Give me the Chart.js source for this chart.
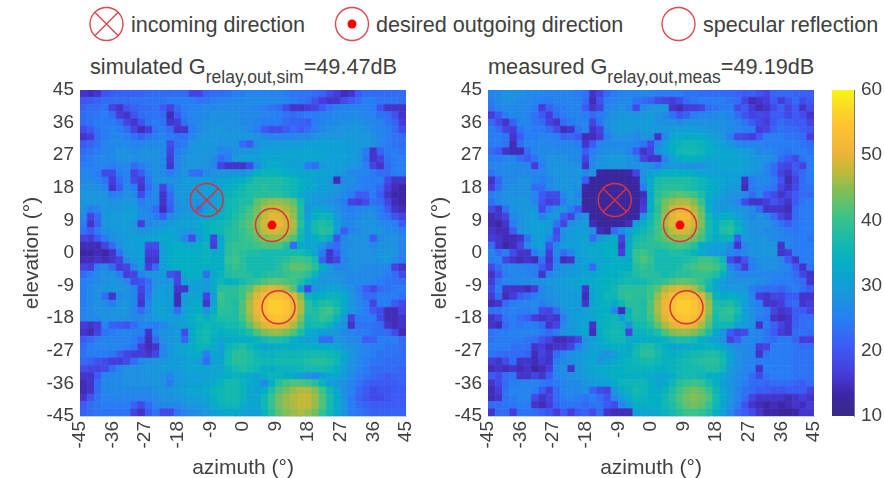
<!DOCTYPE html>
<html>
<head>
<meta charset="utf-8">
<title>Relay gain</title>
<script src="https://cdn.jsdelivr.net/npm/chart.js@4/dist/chart.umd.min.js"></script>
<style>
  html, body { margin: 0; padding: 0; background: #fff; }
  body { width: 884px; height: 478px; position: relative; overflow: hidden; font-family: "Liberation Sans", Arial, sans-serif; color: #404040; }
  canvas { position: absolute; top: 60px; filter: blur(0.6px); }
  .txt { position: absolute; white-space: nowrap; }
  .legend { top: 12px; font-size: 21.6px; line-height: 26px; }
  .title { top: 55px; font-size: 21.7px; line-height: 24px; }
  .title sub { font-size: 17.5px; line-height: 0; vertical-align: -9px; }
  svg { position: absolute; top: 0; left: 0; }
</style>
</head>
<body>
<svg width="884" height="50" fill="none" stroke="#e2474f" stroke-width="1.4">
  <circle cx="106.5" cy="24" r="16.5"/>
  <path d="M94.8 12.3 L118.2 35.7 M118.2 12.3 L94.8 35.7"/>
  <circle cx="352" cy="24" r="16.5"/>
  <circle cx="352" cy="24" r="4.5" fill="#f00" stroke="none"/>
  <circle cx="678.5" cy="24" r="16.5"/>
</svg>
<div class="txt legend" style="left:131px">incoming direction</div>
<div class="txt legend" style="left:376px">desired outgoing direction</div>
<div class="txt legend" style="left:703px">specular reflection</div>
<div class="txt title" style="left:90px">simulated G<sub>relay,out,sim</sub>=49.47dB</div>
<div class="txt title" style="left:488px">measured G<sub>relay,out,meas</sub>=49.19dB</div>
<canvas id="simChart" width="424" height="418" style="left:0"></canvas>
<canvas id="measChart" width="424" height="418" style="left:408px"></canvas>
<canvas id="colorbar" width="64" height="418" style="left:820px"></canvas>
<script>
const axisTicks = [-45, -36, -27, -18, -9, 0, 9, 18, 27, 36, 45];
const colorbarTicks = [10, 20, 30, 40, 50, 60];
const azimuthCells = [-44,-42,-40,-38,-36,-34,-32,-30,-28,-26,-24,-22,-20,-18,-16,-14,-12,-10,-8,-6,-4,-2,0,2,4,6,8,10,12,14,16,18,20,22,24,26,28,30,32,34,36,38,40,42,44];
const elevationCells = [44,42,40,38,36,34,32,30,28,26,24,22,20,18,16,14,12,10,8,6,4,2,0,-2,-4,-6,-8,-10,-12,-14,-16,-18,-20,-22,-24,-26,-28,-30,-32,-34,-36,-38,-40,-42,-44];

// direction markers, degrees
const incomingDir = { x: -10, y: 14.6 };
const outgoingDir = { x: 8, y: 7.7 };
const specularDir = { x: 9.8, y: -15 };

// gain in dB, one row per elevation (top to bottom)
const simulatedGain = [
[15,14,15,19,20,21,21,21,21,22,22,22,22,22,22,17,17,21,22,22,23,24,24,25,25,25,25,25,24,23,23,23,22,21,18,16,14,15,20,22,22,22,22,22,22],
[19,20,21,22,22,22,22,23,23,23,23,23,24,24,24,24,23,23,24,25,25,26,26,26,26,26,26,26,25,24,23,22,19,16,15,15,18,20,22,24,24,23,23,23,22],
[21,22,22,23,17,15,19,21,22,22,23,20,17,22,24,25,25,26,26,26,26,26,26,26,25,24,23,22,18,15,15,16,17,20,23,24,25,25,25,25,24,19,15,15,15],
[22,23,23,24,22,16,15,19,22,23,23,22,14,20,24,25,26,26,27,27,27,27,26,26,26,25,25,24,23,22,23,24,24,25,25,26,26,26,26,25,25,23,22,19,15],
[22,23,24,24,24,22,17,15,19,23,24,23,15,16,23,25,26,27,27,27,27,27,26,26,25,24,24,24,22,21,21,20,24,25,26,26,27,27,27,26,26,25,23,21,16],
[18,20,23,24,25,24,22,17,14,16,23,24,22,15,15,24,26,27,28,28,27,27,27,26,24,20,18,18,20,22,20,22,24,26,27,27,28,28,28,27,26,25,24,22,18],
[15,16,22,24,25,25,24,23,21,23,24,25,24,23,23,25,27,28,28,28,28,28,28,28,27,26,25,25,25,25,26,26,27,28,28,28,28,29,28,28,27,25,24,23,22],
[20,21,23,25,26,26,26,25,25,26,26,26,18,23,24,27,28,28,28,27,27,28,22,20,27,29,29,29,29,29,29,30,30,30,30,30,30,29,29,28,27,25,24,23,22],
[22,23,24,25,26,27,27,26,27,27,27,26,17,24,26,28,28,28,27,25,25,27,28,28,29,30,30,30,30,31,31,31,31,31,30,30,30,29,28,24,15,21,24,24,23],
[23,24,25,26,26,27,27,27,27,27,27,26,16,25,27,28,28,28,26,22,24,28,30,30,30,31,31,31,31,31,31,31,31,31,30,30,30,29,28,23,15,17,23,24,24],
[24,24,25,25,24,25,26,22,24,26,27,26,15,25,27,28,28,27,25,17,15,15,15,18,26,31,32,32,31,30,30,24,22,28,30,30,29,28,27,24,17,15,22,24,24],
[25,25,24,18,18,24,25,17,20,25,27,26,24,26,28,23,22,26,27,28,28,28,27,30,33,34,34,34,33,32,31,31,31,31,30,29,28,26,25,25,24,22,22,24,24],
[26,26,25,23,16,22,25,18,16,24,27,28,27,27,29,29,29,29,29,30,31,32,33,35,37,37,37,37,36,35,33,32,31,30,29,14,26,27,25,24,24,24,18,15,15],
[27,27,27,25,15,20,26,24,15,22,26,17,24,28,29,29,29,30,30,31,33,34,35,37,37,38,37,37,36,35,33,32,31,30,29,28,27,26,25,24,24,22,16,14,13],
[28,28,28,27,24,25,27,26,18,24,26,15,22,28,29,29,29,30,30,31,34,35,36,37,38,38,38,38,37,35,32,30,29,29,28,27,26,24,20,20,24,20,15,13,13],
[28,28,28,28,27,27,28,28,24,26,25,15,21,27,28,28,27,28,29,31,35,36,37,37,42,44,45,45,44,42,36,30,28,28,27,26,24,17,16,18,23,22,17,14,13],
[27,24,25,28,28,28,29,29,26,25,22,14,20,27,28,28,24,29,31,32,35,36,38,40,43,46,47,47,46,44,37,28,31,31,29,27,25,24,25,26,26,24,20,15,14],
[26,17,22,28,29,29,30,30,26,26,24,20,26,28,29,29,30,31,32,33,35,37,39,41,44,47,49,49,48,45,37,30,33,35,34,29,26,25,26,27,27,24,23,19,17],
[24,15,21,28,29,29,30,28,16,26,27,28,29,30,31,31,32,33,34,35,36,38,40,42,45,48,50,50,48,46,38,31,36,37,36,30,26,26,27,27,28,26,25,24,20],
[23,20,24,27,28,29,29,29,27,28,29,30,31,30,28,28,31,33,34,35,37,38,39,41,44,47,48,48,47,45,36,31,36,38,37,29,20,25,26,27,28,27,26,26,24],
[17,16,20,24,27,28,29,30,30,31,31,32,32,30,25,18,29,33,17,32,37,38,39,40,42,44,45,45,44,41,35,31,33,35,33,19,26,27,27,27,20,26,27,27,25],
[14,14,14,17,22,27,29,30,30,18,18,30,32,33,32,31,33,34,16,32,38,39,39,39,40,41,41,41,38,22,32,31,31,28,23,22,26,27,27,27,26,27,27,27,25],
[13,13,14,13,15,23,28,29,30,16,16,30,32,33,33,33,33,34,32,32,38,39,38,37,37,36,36,36,36,36,36,34,31,24,15,20,26,27,27,27,27,28,28,27,25],
[14,14,15,14,15,17,26,29,30,15,15,30,32,33,33,33,33,34,33,33,39,40,38,36,36,36,36,37,38,40,40,39,36,21,15,17,25,27,27,27,27,28,28,26,24],
[17,16,24,26,22,16,17,25,29,16,22,30,32,33,33,33,33,33,33,33,38,39,38,36,36,36,36,38,40,42,42,41,38,33,28,25,26,27,27,26,26,26,25,17,15],
[22,24,26,27,27,24,16,17,25,28,28,29,19,17,32,33,33,22,32,34,37,38,38,37,36,37,38,38,39,40,40,38,34,29,28,27,27,26,26,26,26,26,24,22,18],
[24,25,26,27,28,27,25,18,19,22,27,28,28,17,30,31,30,29,32,35,33,34,36,38,39,41,42,42,41,40,37,33,29,28,28,28,27,26,26,26,25,24,23,23,22],
[24,26,27,28,28,28,27,25,17,23,28,29,29,15,15,29,30,28,32,38,38,38,40,42,46,48,49,48,46,42,30,17,28,30,31,31,29,27,24,20,18,22,23,24,24],
[24,26,27,22,15,26,27,26,16,24,29,30,29,14,29,31,31,17,30,40,38,38,40,45,49,52,53,53,52,49,44,34,33,33,34,34,32,28,25,22,22,24,24,24,23],
[24,26,27,26,24,27,28,26,15,25,30,30,29,14,29,32,32,15,31,39,38,37,41,46,50,53,55,55,54,51,46,38,35,37,37,35,32,28,26,24,17,24,24,20,18],
[25,26,27,27,27,28,28,25,22,26,30,31,29,22,30,32,33,27,33,38,38,37,41,46,50,53,55,55,54,51,46,38,37,39,40,37,32,28,26,24,20,18,14,14,17],
[25,26,26,27,27,27,27,26,26,27,29,30,30,29,31,33,35,33,35,37,37,37,40,45,49,52,53,54,52,49,44,36,37,39,38,34,29,17,24,24,24,18,14,14,15],
[16,15,16,25,21,20,19,22,25,25,24,26,28,29,30,32,34,35,34,35,36,36,38,42,46,49,50,50,49,46,41,35,36,36,34,30,27,15,23,23,23,22,15,14,15],
[15,14,17,23,24,25,25,25,24,15,25,27,28,29,18,32,35,36,34,33,34,34,35,37,41,44,45,45,44,41,37,32,31,30,29,28,26,25,24,24,23,22,22,18,14],
[20,22,24,25,25,25,25,24,21,14,22,27,28,29,21,32,35,36,33,31,32,33,33,33,34,36,37,37,36,33,31,30,30,22,22,28,27,26,25,20,21,24,24,24,22],
[22,24,25,25,25,25,24,23,16,14,15,25,28,30,31,32,34,34,32,30,34,36,37,35,33,31,32,32,33,32,33,33,33,33,32,31,29,27,26,25,24,24,23,23,22],
[23,24,24,24,23,20,17,16,16,15,17,26,28,30,31,32,32,24,31,30,36,38,38,37,35,34,34,35,35,35,35,36,36,36,35,34,31,28,26,25,24,23,23,23,22],
[22,21,19,18,16,16,18,22,26,27,28,28,29,29,30,31,29,22,30,31,36,38,38,37,36,35,35,36,36,36,36,37,38,38,37,35,31,28,26,24,23,23,22,22,22],
[18,17,17,18,22,25,27,27,27,28,28,29,29,29,30,31,31,31,31,31,34,36,37,36,35,33,33,34,34,34,35,36,36,36,35,33,30,27,25,24,22,22,22,22,21],
[15,15,20,25,26,26,27,27,27,28,28,27,25,28,29,30,30,30,31,32,33,34,33,32,31,33,34,34,33,32,30,28,26,30,31,31,29,26,24,23,22,21,20,21,21],
[14,15,22,26,26,26,27,27,27,27,28,27,24,28,29,30,30,31,32,34,36,36,34,32,31,26,33,38,40,41,41,40,38,34,30,28,27,25,23,21,20,20,20,20,21],
[14,15,22,26,26,26,26,26,26,26,27,28,28,29,30,31,31,32,34,35,36,36,34,31,30,33,37,41,43,45,46,46,44,40,35,31,27,25,22,20,18,19,19,20,20],
[15,19,23,25,25,25,25,25,25,25,26,27,27,28,29,30,30,31,33,35,36,36,34,31,31,35,39,43,45,46,47,47,45,41,36,32,28,24,21,19,18,18,19,20,20],
[20,22,23,24,24,24,24,21,18,22,25,26,26,26,27,28,29,30,32,34,35,35,33,31,31,35,39,43,45,46,47,47,45,41,36,32,28,24,22,21,20,20,20,20,20],
[21,22,23,23,23,23,23,17,15,20,23,18,18,23,25,26,27,28,30,31,32,32,31,30,30,34,38,42,44,45,46,45,43,39,35,31,28,24,23,22,21,21,21,21,21]
];

const measuredGain = [
[25,26,27,27,27,26,26,26,25,25,25,25,24,23,15,17,22,24,25,25,25,26,25,24,24,24,24,23,23,22,22,22,22,22,21,20,21,19,17,21,22,22,21,21,21],
[24,26,27,27,26,26,25,24,24,25,25,25,25,22,14,19,24,25,26,26,23,22,21,18,17,16,18,22,23,24,24,24,24,23,22,17,14,15,16,20,16,19,22,18,20],
[23,25,26,26,26,25,24,16,21,23,24,25,25,20,15,17,25,26,27,25,18,26,27,28,28,15,14,16,16,17,22,23,24,24,18,20,16,14,15,18,21,17,20,15,18],
[16,20,24,26,26,25,23,20,16,22,24,25,25,24,22,24,26,27,28,28,28,28,29,27,26,23,19,21,24,25,25,26,26,25,22,19,17,18,17,20,20,18,20,18,15],
[22,18,15,21,25,25,23,22,17,15,22,24,25,25,17,23,27,28,29,29,29,29,29,27,27,27,26,27,27,27,27,27,27,26,25,23,20,18,16,20,22,21,20,20,17],
[24,22,17,16,23,25,24,24,22,18,14,15,23,25,15,17,26,28,29,29,28,29,29,28,28,29,30,30,30,29,28,28,27,26,25,24,24,16,17,21,23,22,22,20,19],
[24,24,23,15,20,24,24,25,25,24,21,22,20,14,14,16,24,27,27,27,26,27,27,15,26,31,32,32,33,32,31,29,28,24,18,17,16,20,24,24,24,23,23,22,16],
[24,24,23,14,22,25,25,26,25,25,25,25,24,15,20,25,26,26,26,26,25,23,18,26,29,33,34,35,35,34,33,31,30,28,26,25,25,25,24,24,24,24,24,23,22],
[22,20,15,14,14,22,25,26,26,26,26,26,26,20,24,26,27,27,27,25,20,15,17,27,30,33,35,36,36,35,33,32,31,31,30,29,28,26,26,25,24,23,24,24,23],
[24,24,25,25,22,20,23,26,27,27,27,26,26,17,25,27,28,29,29,27,26,17,15,15,25,30,32,33,33,32,31,31,31,31,31,30,29,28,27,26,22,20,18,23,24],
[25,25,26,26,26,25,16,24,27,28,28,27,27,15,26,28,28,28,28,27,27,28,27,24,27,29,28,28,27,27,29,30,31,31,31,30,29,28,25,22,18,17,20,17,24],
[23,25,26,26,26,26,25,25,27,28,28,27,28,26,27,13,12,12,12,13,17,27,30,32,33,33,33,33,32,31,30,30,30,30,30,29,28,27,25,22,17,15,19,22,24],
[15,21,26,26,27,27,25,24,26,27,28,28,28,20,12,12,12,12,12,12,13,28,32,36,37,37,37,37,36,35,33,32,31,30,30,15,24,26,26,24,19,14,17,22,24],
[16,22,26,27,27,27,22,22,26,27,28,28,27,13,12,12,12,12,12,12,12,24,33,37,38,38,38,37,36,35,33,32,30,29,28,14,24,25,24,23,17,15,18,22,23],
[24,26,27,27,27,27,25,20,18,18,26,28,25,12,12,12,12,12,12,12,12,14,32,38,40,41,42,41,40,37,33,31,29,28,27,26,22,25,20,18,15,17,20,22,22],
[23,25,27,28,28,28,25,19,16,17,24,27,27,12,12,12,12,12,12,12,12,15,33,39,43,45,46,46,44,39,32,29,28,27,25,18,15,15,16,19,17,15,20,23,24],
[18,15,23,27,28,28,28,18,24,27,28,24,20,13,12,12,12,12,12,12,12,16,33,38,44,47,49,49,46,42,33,29,29,29,28,27,26,22,15,15,15,14,22,24,24],
[14,15,17,26,27,29,29,25,28,28,20,17,26,27,12,12,12,12,12,12,13,28,35,39,45,49,51,51,48,43,35,31,33,33,30,28,26,27,26,22,17,15,22,24,24],
[14,13,15,24,27,29,30,30,29,23,17,27,28,30,14,12,12,12,12,14,30,33,36,40,46,49,50,50,48,44,36,33,36,37,33,29,27,27,27,25,23,20,23,24,24],
[15,14,14,20,27,29,30,30,29,18,27,29,30,29,27,14,13,22,26,30,33,35,37,40,44,47,48,48,46,42,36,33,37,38,34,30,27,27,26,26,25,24,23,24,24],
[16,15,14,14,15,23,29,30,25,19,28,29,30,31,22,28,31,32,17,31,36,37,38,40,42,44,45,45,43,40,35,32,34,35,20,29,28,27,27,26,25,25,24,24,23],
[22,15,13,14,17,26,29,30,19,26,29,30,30,31,31,32,33,33,15,32,37,38,38,38,39,40,41,40,38,32,31,30,30,26,15,25,27,28,28,28,15,26,24,24,24],
[25,22,24,18,15,15,24,28,16,26,22,25,30,31,32,32,33,33,16,33,39,40,38,36,36,37,37,36,34,32,30,29,28,25,24,26,27,28,28,28,15,16,24,24,24],
[24,25,17,15,14,15,14,23,15,24,14,15,29,30,31,31,32,33,33,32,39,41,39,36,36,36,36,37,38,40,40,38,35,18,15,19,25,27,27,27,26,20,15,24,24],
[18,22,25,26,25,24,24,20,16,26,27,28,29,30,22,32,33,33,33,33,38,39,38,36,36,36,37,39,40,41,41,40,37,25,22,16,24,26,27,27,26,25,20,15,23],
[15,19,24,25,26,25,24,15,25,27,28,29,30,31,31,32,33,33,34,35,37,38,38,37,36,37,38,38,39,39,39,37,33,28,26,25,26,26,25,25,25,24,22,17,15],
[16,23,25,25,26,26,27,27,28,29,30,31,31,31,32,33,33,34,35,36,35,36,37,38,39,41,42,42,41,39,36,32,29,27,27,27,27,26,26,24,24,24,23,22,15],
[18,24,15,15,15,14,16,25,27,28,29,30,30,15,32,33,34,35,38,38,38,38,40,42,46,48,49,48,46,42,35,31,29,29,28,28,24,23,22,22,21,23,24,22,20],
[16,22,14,16,20,22,24,26,27,27,29,29,29,14,31,33,35,35,38,39,38,38,40,45,49,52,53,53,52,49,43,34,32,33,32,30,25,16,15,17,17,20,20,15,15],
[14,15,22,24,25,25,26,24,26,27,29,29,29,15,31,33,34,32,35,38,38,37,41,46,50,53,55,55,54,51,45,37,36,37,34,30,26,24,15,15,16,21,22,15,16],
[23,23,24,25,24,24,25,18,17,22,27,29,29,30,31,33,33,25,14,34,38,37,41,46,50,53,55,55,54,51,45,37,38,39,36,30,27,25,24,17,15,16,20,20,17],
[15,17,23,24,22,20,16,15,16,15,24,29,30,30,31,33,34,35,30,35,37,37,40,45,49,52,53,54,52,49,43,36,38,38,34,30,27,24,23,15,14,15,20,22,22],
[15,14,22,24,23,24,24,22,15,17,26,28,30,31,15,33,34,35,35,27,36,36,38,42,46,49,50,50,49,46,41,35,35,35,30,29,27,15,24,21,17,15,21,22,23],
[23,24,24,25,25,25,25,24,22,24,27,28,30,31,14,33,35,36,35,17,34,34,35,37,41,44,45,45,44,41,37,32,28,20,17,18,26,25,23,20,16,15,22,23,22],
[23,24,24,24,24,23,22,19,17,14,14,15,17,28,30,32,34,35,35,33,32,33,33,33,34,36,37,37,36,33,31,30,27,17,20,25,26,25,23,22,24,24,21,16,16],
[24,24,24,23,23,22,15,16,14,15,15,17,24,28,30,31,32,33,33,32,35,37,37,35,33,31,31,32,33,33,34,33,31,28,26,26,25,16,17,24,24,24,23,22,22],
[23,22,22,22,22,21,14,17,15,22,25,27,28,29,31,29,27,30,32,33,36,38,38,36,34,33,34,35,36,36,37,37,35,30,27,26,25,15,23,24,24,24,23,23,23],
[16,15,18,22,15,15,14,16,15,24,26,27,28,30,31,28,30,32,33,34,35,36,36,35,34,34,35,36,37,38,38,38,36,31,27,26,25,24,24,24,24,24,23,23,23],
[14,15,14,15,14,15,13,14,16,25,27,15,28,30,31,32,32,33,33,34,34,34,34,33,33,34,35,36,36,36,37,37,35,29,27,25,25,15,24,24,24,24,23,23,23],
[20,18,22,23,15,15,17,15,20,25,26,27,28,29,30,31,32,33,33,33,33,33,32,31,31,33,35,36,36,35,33,33,31,28,26,25,22,18,23,24,24,24,23,23,23],
[15,18,22,24,25,25,25,24,23,24,25,26,26,28,29,30,30,32,34,35,35,35,33,31,32,35,38,39,40,39,36,33,30,28,26,24,22,22,21,22,22,22,21,20,22],
[14,16,23,25,25,25,24,20,16,22,25,26,26,27,21,18,17,28,32,34,36,35,33,32,34,37,40,42,43,42,39,35,31,28,25,23,22,20,20,19,19,20,20,20,17],
[14,15,23,24,25,25,18,15,17,22,24,25,24,23,24,22,19,25,29,32,35,34,33,33,35,38,41,43,44,43,41,36,32,28,25,22,17,15,15,15,15,14,15,16,15],
[22,22,23,23,24,24,15,14,16,21,23,23,23,22,23,23,20,18,25,29,33,33,33,33,35,37,40,42,43,42,39,35,31,27,24,19,15,14,13,14,13,14,15,14,16],
[15,22,22,16,23,23,22,21,19,16,20,16,20,21,18,22,15,14,14,14,30,31,31,32,34,36,38,40,40,39,37,33,30,26,22,20,18,15,13,13,12,12,13,15,15]
];

const TEXT_COLOR = '#404040';
const TICK_FONT = { family: '"Liberation Sans", Arial, sans-serif', size: 19 };
const LABEL_FONT = { family: '"Liberation Sans", Arial, sans-serif', size: 21 };
const MARK_COLOR = '#d9323c';

// parula-like stops
const colorStops = [
  [10, 53, 42, 135], [13, 62, 38, 168], [16, 70, 60, 220], [20, 60, 90, 245],
  [24, 40, 125, 245], [27, 30, 145, 225], [30, 15, 160, 215], [33, 5, 175, 195],
  [36, 20, 185, 175], [40, 60, 195, 135], [44, 130, 190, 85], [47, 195, 185, 55],
  [50, 240, 180, 55], [54, 253, 195, 50], [57, 250, 220, 35], [60, 248, 250, 20]
];

const gainColor = (v) => {
  for (let i = 1; i < colorStops.length; i++) {
    const a = colorStops[i - 1], b = colorStops[i];
    if (v <= b[0]) {
      const t = Math.max(0, (v - a[0]) / (b[0] - a[0]));
      const c = [1, 2, 3].map(k => Math.round(a[k] + (b[k] - a[k]) * t));
      return `rgb(${c[0]},${c[1]},${c[2]})`;
    }
  }
  return 'rgb(248,250,20)';
};

const buildCells = (gain) => {
  const points = [];
  gain.forEach((row, r) => row.forEach((v, c) => {
    points.push({ x: azimuthCells[c], y: elevationCells[r], v });
  }));
  return points;
};

const markerSet = (point, style, radius, extra) => Object.assign({
  data: [point],
  pointStyle: style,
  pointRadius: radius,
  pointBackgroundColor: 'transparent',
  pointBorderColor: MARK_COLOR,
  pointBorderWidth: 1.5
}, extra);

const drawHeatmap = (id, gain) => {
  const cells = buildCells(gain);
  const colors = cells.map(p => gainColor(p.v));
  new Chart(document.getElementById(id), {
    type: 'scatter',
    data: {
      datasets: [
        markerSet(outgoingDir, 'circle', 4.5, { pointBackgroundColor: '#ff0000', pointBorderColor: '#ff0000', pointBorderWidth: 0 }),
        markerSet(incomingDir, 'circle', 16.5),
        markerSet(incomingDir, 'crossRot', 16.5),
        markerSet(outgoingDir, 'circle', 16.5),
        markerSet(specularDir, 'circle', 16.5),
        {
          data: cells,
          pointStyle: 'rect',
          pointRadius: 5.2,
          pointBackgroundColor: colors,
          pointBorderColor: colors,
          pointBorderWidth: 0.6
        }
      ]
    },
    options: {
      responsive: false,
      animation: false,
      events: [],
      layout: { autoPadding: false, padding: { left: 20, right: 18, top: 30, bottom: 0 } },
      plugins: { legend: { display: false }, tooltip: { enabled: false } },
      scales: {
        x: {
          type: 'linear', min: -45, max: 45,
          afterFit: (s) => { s.height = 62; s.paddingLeft = 0; s.paddingRight = 0; },
          afterBuildTicks: (s) => { s.ticks = axisTicks.map(value => ({ value })); },
          grid: { display: false, drawTicks: false },
          border: { color: '#c4d0e0' },
          ticks: { color: TEXT_COLOR, font: TICK_FONT, minRotation: 90, maxRotation: 90, padding: 5, autoSkip: false },
          title: { display: true, text: 'azimuth (°)', color: TEXT_COLOR, font: LABEL_FONT, padding: { top: 0, bottom: -3 } }
        },
        y: {
          type: 'linear', min: -45, max: 45,
          afterFit: (s) => { s.width = 60; s.paddingTop = 0; s.paddingBottom = 0; },
          afterBuildTicks: (s) => { s.ticks = axisTicks.map(value => ({ value })); },
          grid: { display: false, drawTicks: false },
          border: { color: '#c4d0e0' },
          ticks: { color: TEXT_COLOR, font: TICK_FONT, padding: 6, autoSkip: false },
          title: { display: true, text: 'elevation (°)', color: TEXT_COLOR, font: LABEL_FONT, padding: { top: 0, bottom: 0 } }
        }
      }
    }
  });
};

const drawColorbar = () => {
  const datasets = [];
  for (let level = 10; level < 60; level += 0.5) {
    datasets.push({
      data: [[level, Math.min(60, level + 1)]],
      backgroundColor: gainColor(level + 0.25),
      grouped: false,
      barPercentage: 1,
      categoryPercentage: 1
    });
  }
  new Chart(document.getElementById('colorbar'), {
    type: 'bar',
    data: { labels: ['gain'], datasets },
    options: {
      responsive: false,
      animation: false,
      events: [],
      layout: { autoPadding: false, padding: { left: 12, right: 0, top: 30, bottom: 62 } },
      plugins: { legend: { display: false }, tooltip: { enabled: false } },
      scales: {
        x: { display: false },
        y: {
          position: 'right', min: 10, max: 60,
          afterFit: (s) => { s.width = 30; s.paddingTop = 0; s.paddingBottom = 0; },
          afterBuildTicks: (s) => { s.ticks = colorbarTicks.map(value => ({ value })); },
          grid: { display: false, drawTicks: false },
          border: { color: '#7a7a7a' },
          ticks: { color: TEXT_COLOR, font: TICK_FONT, padding: 7 }
        }
      }
    }
  });
};

drawHeatmap('simChart', simulatedGain);
drawHeatmap('measChart', measuredGain);
drawColorbar();
</script>
</body>
</html>
